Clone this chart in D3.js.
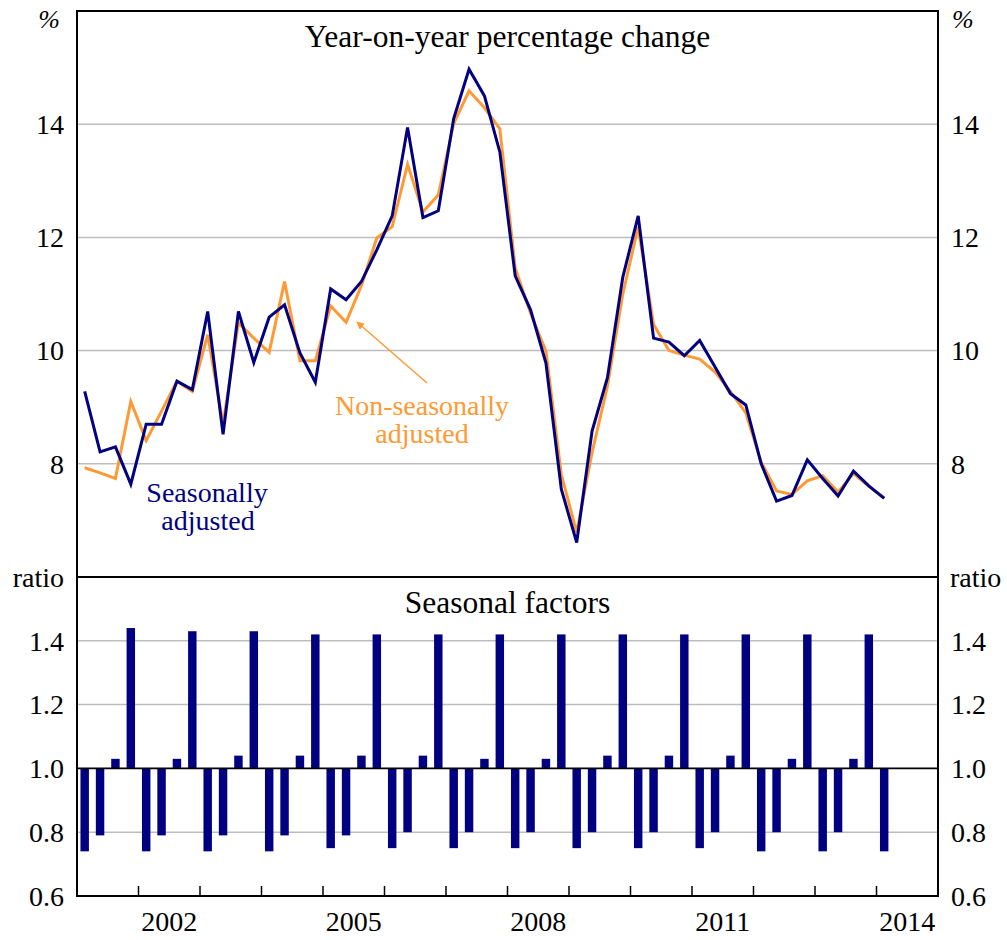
<!DOCTYPE html>
<html>
<head>
<meta charset="utf-8">
<script src="https://cdn.jsdelivr.net/npm/d3@7"></script>
<style>
  body { margin: 0; background: #fff; }
  svg { display: block; font-family: "Liberation Serif", "Times New Roman", serif; }
</style>
</head>
<body>
<script>
// quarterly data, 2001Q1 to 2014Q1
const startYear = 2001;
const nQuarters = 53;

const seasAdj = [9.28, 8.21, 8.30, 7.64, 8.70, 8.70, 9.46, 9.31, 10.69, 8.52, 10.69, 9.79,
  10.59, 10.81, 9.96, 9.44, 11.09, 10.90, 11.22, 11.78, 12.38, 13.94, 12.35, 12.47,
  14.10, 14.97, 14.50, 13.51, 11.32, 10.72, 9.78, 7.55, 6.61, 8.58, 9.52, 11.30,
  12.38, 10.22, 10.15, 9.91, 10.18, 9.71, 9.24, 9.04, 8.00, 7.34, 7.44, 8.07,
  7.74, 7.43, 7.87, 7.61, 7.39];

const nonSeasAdj = [7.93, 7.84, 7.74, 9.10, 8.41, 8.93, 9.46, 9.28, 10.28, 8.70, 10.49, 10.22,
  9.97, 11.22, 9.82, 9.82, 10.79, 10.50, 11.15, 11.99, 12.19, 13.29, 12.45, 12.75,
  14.01, 14.59, 14.29, 13.92, 11.46, 10.66, 9.99, 7.81, 6.79, 8.20, 9.37, 11.00,
  12.19, 10.46, 10.00, 9.92, 9.85, 9.62, 9.28, 8.90, 8.03, 7.52, 7.46, 7.70,
  7.79, 7.50, 7.83, 7.60, 7.40];

const seasFactors = [0.74, 0.79, 1.03, 1.44, 0.74, 0.79, 1.03, 1.43, 0.74, 0.79, 1.04, 1.43,
  0.74, 0.79, 1.04, 1.42, 0.75, 0.79, 1.04, 1.42, 0.75, 0.80, 1.04, 1.42,
  0.75, 0.80, 1.03, 1.42, 0.75, 0.80, 1.03, 1.42, 0.75, 0.80, 1.04, 1.42,
  0.75, 0.80, 1.04, 1.42, 0.75, 0.80, 1.04, 1.42, 0.74, 0.80, 1.03, 1.42,
  0.74, 0.80, 1.03, 1.42, 0.74];

const topTicks = [8, 10, 12, 14];
const botTicks = [0.6, 0.8, 1.0, 1.2, 1.4];
const yearTicks = d3.range(2002, 2015);
const yearLabels = [2002, 2005, 2008, 2011, 2014];

const width = 1007, height = 940;
const left = 77, right = 938;
const top1 = 11, mid = 577, bot = 896;
const navy = '#000080', orange = '#ff9933', grid = '#bdbdbd';

// quarter midpoints in decimal years
const qx = d3.range(nQuarters).map(i => startYear + Math.floor(i / 4) + ((i % 4) + 0.5) / 4);

const x = d3.scaleLinear().domain([2001, 2015]).range([left, right]);
const yTop = d3.scaleLinear().domain([6, 16]).range([mid, top1]);
const yBot = d3.scaleLinear().domain([0.6, 1.6]).range([bot, mid]);

const svg = d3.select('body').append('svg')
  .attr('width', width)
  .attr('height', height);

// gridlines
svg.append('g').selectAll('line')
  .data(topTicks).enter().append('line')
  .attr('x1', left).attr('x2', right)
  .attr('y1', d => yTop(d)).attr('y2', d => yTop(d))
  .attr('stroke', grid).attr('stroke-width', 1.5);

svg.append('g').selectAll('line')
  .data(botTicks.filter(d => d !== 1.0 && d !== 0.6)).enter().append('line')
  .attr('x1', left).attr('x2', right)
  .attr('y1', d => yBot(d)).attr('y2', d => yBot(d))
  .attr('stroke', grid).attr('stroke-width', 1.5);

// bars, hanging from 1.0
const qw = x(2001.25) - x(2001);
const bw = qw * 0.55;
svg.append('g').selectAll('rect')
  .data(seasFactors).enter().append('rect')
  .attr('x', (d, i) => x(qx[i]) - bw / 2)
  .attr('width', bw)
  .attr('y', d => yBot(Math.max(d, 1)))
  .attr('height', d => Math.abs(yBot(d) - yBot(1)))
  .attr('fill', navy);

svg.append('line')
  .attr('x1', left).attr('x2', right)
  .attr('y1', yBot(1)).attr('y2', yBot(1))
  .attr('stroke', '#000').attr('stroke-width', 1.8);

// lines
const line = d3.line()
  .x((d, i) => x(qx[i]))
  .y(d => yTop(d));

svg.append('path')
  .datum(nonSeasAdj)
  .attr('d', line)
  .attr('fill', 'none')
  .attr('stroke', orange)
  .attr('stroke-width', 3)
  .attr('stroke-linejoin', 'miter');

svg.append('path')
  .datum(seasAdj)
  .attr('d', line)
  .attr('fill', 'none')
  .attr('stroke', navy)
  .attr('stroke-width', 3)
  .attr('stroke-linejoin', 'miter');

// frame and panel divider
svg.append('rect')
  .attr('x', left).attr('y', top1)
  .attr('width', right - left).attr('height', bot - top1)
  .attr('fill', 'none').attr('stroke', '#000').attr('stroke-width', 2);
svg.append('line')
  .attr('x1', left).attr('x2', right)
  .attr('y1', mid).attr('y2', mid)
  .attr('stroke', '#000').attr('stroke-width', 2);

// year ticks (inside, from bottom)
svg.append('g').selectAll('line')
  .data(yearTicks).enter().append('line')
  .attr('x1', d => x(d)).attr('x2', d => x(d))
  .attr('y1', bot).attr('y2', bot - 10)
  .attr('stroke', '#000').attr('stroke-width', 1.5);

svg.append('g').selectAll('text')
  .data(yearLabels).enter().append('text')
  .attr('x', d => x(d + 0.5))
  .attr('y', 931)
  .attr('text-anchor', 'middle')
  .attr('font-size', 28)
  .text(d => d);

// y tick labels both sides
function tickLabels(ticks, scale, fmt) {
  [[64, 'end'], [951, 'start']].forEach(([tx, anchor]) => {
    svg.append('g').selectAll('text')
      .data(ticks).enter().append('text')
      .attr('x', tx)
      .attr('y', d => scale(d))
      .attr('dy', '0.35em')
      .attr('text-anchor', anchor)
      .attr('font-size', 28)
      .text(fmt);
  });
}
tickLabels(topTicks, yTop, d => d);
tickLabels(botTicks, yBot, d => d3.format('.1f')(d));

// units
svg.append('text').attr('x', 60).attr('y', 28).attr('text-anchor', 'end')
  .attr('font-size', 26).attr('font-style', 'italic').text('%');
svg.append('text').attr('x', 952).attr('y', 28).attr('text-anchor', 'start')
  .attr('font-size', 26).attr('font-style', 'italic').text('%');
svg.append('text').attr('x', 64).attr('y', mid + 10).attr('text-anchor', 'end')
  .attr('font-size', 28).text('ratio');
svg.append('text').attr('x', 950).attr('y', mid + 10).attr('text-anchor', 'start')
  .attr('font-size', 28).text('ratio');

// panel titles
const cx = (left + right) / 2;
svg.append('text').attr('x', cx).attr('y', 47).attr('text-anchor', 'middle')
  .attr('font-size', 31.5).text('Year-on-year percentage change');
svg.append('text').attr('x', cx).attr('y', 613).attr('text-anchor', 'middle')
  .attr('font-size', 31.5).text('Seasonal factors');

// series labels
svg.append('text').attr('x', 207).attr('y', 502).attr('text-anchor', 'middle')
  .attr('font-size', 28).attr('fill', navy).text('Seasonally');
svg.append('text').attr('x', 208).attr('y', 530).attr('text-anchor', 'middle')
  .attr('font-size', 28).attr('fill', navy).text('adjusted');
svg.append('text').attr('x', 422).attr('y', 415).attr('text-anchor', 'middle')
  .attr('font-size', 28).attr('fill', orange).text('Non-seasonally');
svg.append('text').attr('x', 422).attr('y', 443).attr('text-anchor', 'middle')
  .attr('font-size', 28).attr('fill', orange).text('adjusted');

// arrow to orange line
svg.append('defs').append('marker')
  .attr('id', 'arr')
  .attr('viewBox', '0 0 10 10')
  .attr('refX', 9).attr('refY', 5)
  .attr('markerWidth', 8).attr('markerHeight', 8)
  .attr('markerUnits', 'userSpaceOnUse')
  .attr('orient', 'auto')
  .append('path').attr('d', 'M0,0L10,5L0,10z').attr('fill', orange);
svg.append('line')
  .attr('x1', 427).attr('y1', 383)
  .attr('x2', 357).attr('y2', 322)
  .attr('stroke', orange).attr('stroke-width', 1.5)
  .attr('marker-end', 'url(#arr)');
</script>
</body>
</html>
